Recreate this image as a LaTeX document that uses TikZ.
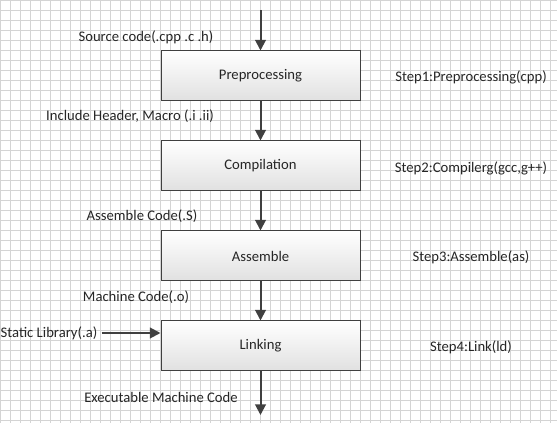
\documentclass[tikz,border=0pt]{standalone}
\usepackage{fontspec}
\setmainfont{Carlito}
\usepackage{tikz}
\usetikzlibrary{arrows.meta}

\definecolor{gridc}{HTML}{D4D4D4}
\definecolor{linec}{HTML}{404040}
\definecolor{textc}{HTML}{262626}

\begin{document}
\begin{tikzpicture}[x=0.75pt,y=-0.75pt,node distance={67.5pt},font=\fontsize{11pt}{13pt}\selectfont,text=textc]
				\tikzstyle{b}=[rectangle, draw=linec, line width=0.75pt, minimum width=149.25pt, minimum height=37.5pt, top color=white, bottom color=black!12]
				\tikzstyle{a}=[draw=linec, line width=1.5pt, -{Triangle[length=8pt,width=8pt]}]
				\tikzstyle{l}=[inner sep=0pt]

				% background grid
				\useasboundingbox (0,0) rectangle (557,423);
				\fill[white] (0,0) rectangle (557,423);
				\foreach \i in {0,...,55}
				\draw[gridc, line width=0.75pt] (\i*10+0.5,0) -- (\i*10+0.5,423);
				\foreach \j in {0,...,42}
				\draw[gridc, line width=0.75pt] (0,\j*10+1) -- (557,\j*10+1);

				\node[b] (pre) at (260.5,76) {Preprocessing};
				\node[b] (com) [below of=pre] {Compilation};
				\node[b] (asm) [below of=com] {Assemble};
				\node[b] (lnk) [below of=asm] {Linking};

				\coordinate (in) at (260.5,10);
				\coordinate (out) at (260.5,415);

				\node[l] (src) at (146,37) {Source code(.cpp .c .h)};
				\node[l] (inc) at (130,116) {Include Header, Macro (.i .ii)};
				\node[l] (asc) at (142,216) {Assemble Code(.S)};
				\node[l] (mac) at (136,297) {Machine Code(.o)};
				\node[l] (exe) at (161,397) {Executable Machine Code};
				\node[l] (lib) at (49,333) {Static Library(.a)};

				\node[l] (s1) at (471,77) {Step1:Preprocessing(cpp)};
				\node[l] (s2) at (471,168) {Step2:Compilerg(gcc,g++)};
				\node[l] (s3) at (471,257) {Step3:Assemble(as)};
				\node[l] (s4) at (471,347) {Step4:Link(ld)};

				\foreach \from/\to in {in/pre,pre/com,com/asm,asm/lnk,lnk/out}
				\draw [a] (\from) -- (\to);
				\draw [a] ([xshift=3pt]lib.east) -- (lib.east -| lnk.west);
			\end{tikzpicture}
\end{document}
